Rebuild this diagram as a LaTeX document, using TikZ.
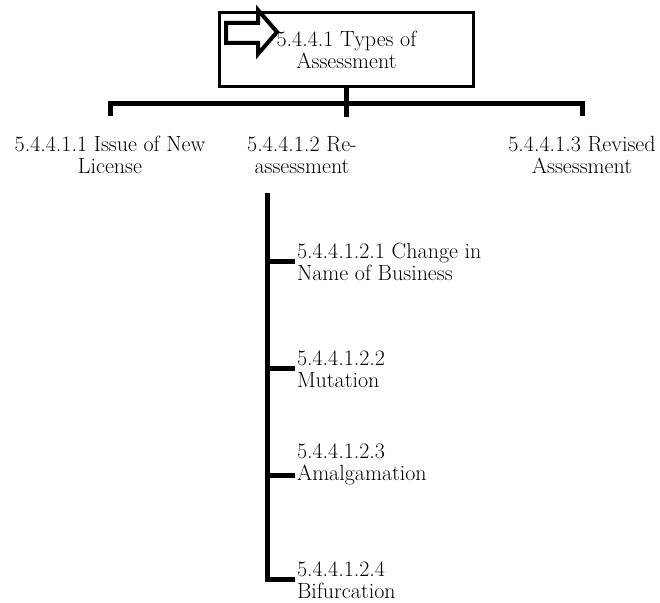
\documentclass[tikz,border=0pt]{standalone}
\usepackage{tikz}

\begin{document}
\begin{tikzpicture}[
		x=1pt, y=-1pt,
		Link/.style={line width=5pt},
		Txt/.style={font=\fontsize{22}{22}\selectfont, inner sep=0pt, outer sep=0pt},
		TopBox/.style={Txt, draw, line width=3pt, align=center,
			minimum width=254pt, minimum height=74pt},
		Label/.style={Txt, align=center, anchor=base},
		SubLabel/.style={Txt, align=left, anchor=base west},
		]
		\useasboundingbox (0,0) rectangle (660,602);
		\node [TopBox] (top) at (346.5,49.5) {5.4.4.1 Types of\\Assessment};
		% block arrow in the box
		\draw [line width=4pt, fill=white] (226,23) -- (258,23) -- (258,10) -- (277,32)
			-- (258,54) -- (258,43) -- (226,43) -- cycle;
		
		\node [Label] (issue) at (110,173) {5.4.4.1.1 Issue of New\\License};
		\node [Label] (reass) at (302,173) {5.4.4.1.2 Re-\\assessment};
		\node [Label] (revised) at (582,173) {5.4.4.1.3 Revised\\Assessment};
		
		\node [SubLabel] (change) at (297,280) {5.4.4.1.2.1 Change in\\Name of Business};
		\node [SubLabel] (mutation) at (297,387) {5.4.4.1.2.2\\Mutation};
		\node [SubLabel] (amalg) at (297,480) {5.4.4.1.2.3\\Amalgamation};
		\node [SubLabel] (bifur) at (297,598) {5.4.4.1.2.4\\Bifurcation};
		
		\coordinate (fork) at (346.5,103);
		\coordinate (spine) at (267,193);
		\draw [Link] (top.south) -- (fork) -- ++(0,14);
		\draw [Link] ([yshift=20pt]issue.north) -- (issue.north |- fork)
			-- (revised.north |- fork) -- ([yshift=20pt]revised.north);
		
		\draw [Link] (spine) |- ([xshift=-2pt]bifur.west);
		\draw [Link] (spine |- change.west) -- ([xshift=-2pt]change.west);
		\draw [Link] (spine |- mutation.west) -- ([xshift=-2pt]mutation.west);
		\draw [Link] ([yshift=-12pt]spine |- amalg.west) -- ([xshift=-2pt,yshift=-12pt]amalg.west);
		
\end{tikzpicture}
\end{document}
